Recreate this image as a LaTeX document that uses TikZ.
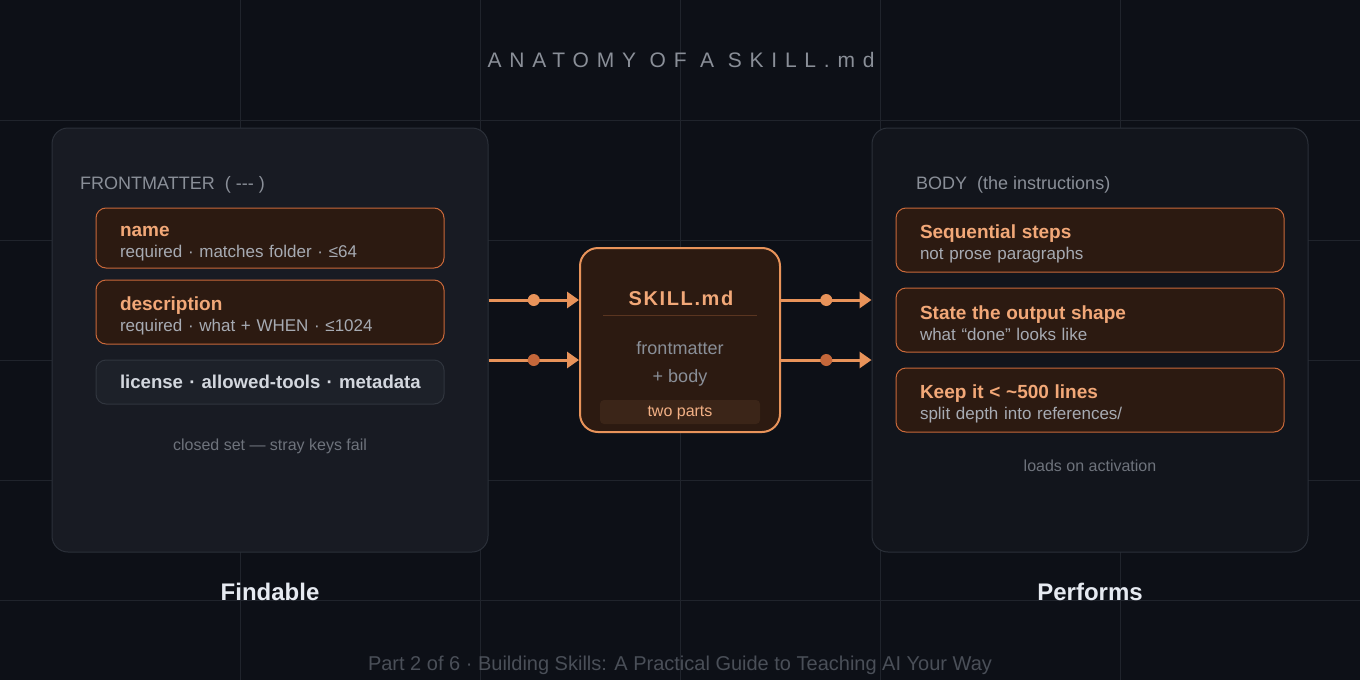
\documentclass[tikz,border=0pt]{standalone}
\usepackage{fontspec}
\setmainfont{Liberation Sans}
\newfontfamily\spacedfont[LetterSpace=37]{Liberation Sans}
\newfontfamily\hubfont[LetterSpace=8]{Liberation Sans}
\usepackage{tikz}
\usetikzlibrary{arrows.meta,positioning,calc}
\definecolor{night}{HTML}{0D1017}
\definecolor{gridline}{HTML}{20242C}
\definecolor{panelL}{HTML}{181B23}
\definecolor{panelR}{HTML}{12151C}
\definecolor{panelEdge}{HTML}{2B3039}
\definecolor{ember}{HTML}{2C1A11}
\definecolor{emberEdge}{HTML}{C8683A}
\definecolor{peach}{HTML}{F2A878}
\definecolor{wire}{HTML}{E8935A}
\definecolor{wireDeep}{HTML}{C4673A}
\definecolor{fog}{HTML}{A7ABB3}
\definecolor{slate}{HTML}{8A8F98}
\definecolor{dim}{HTML}{6E737C}
\definecolor{faint}{HTML}{4A4F58}
\definecolor{chalk}{HTML}{D3D7DE}
\definecolor{snow}{HTML}{E6EAF1}
\definecolor{optFill}{HTML}{1D2129}
\definecolor{optEdge}{HTML}{30353E}
\definecolor{tagFill}{HTML}{3B2518}
\definecolor{tagInk}{HTML}{F2B085}
\definecolor{hubRule}{HTML}{5A3520}

\newcommand{\fieldtext}[2]{\rule{0pt}{21pt}{\fontsize{19}{21}\selectfont\bfseries\color{peach}#1}\\{\fontsize{17}{21}\selectfont\color{fog}#2}}

\begin{document}
\begin{tikzpicture}[x=1pt,y=-1pt,
  panel/.style={draw=panelEdge, line width=1pt, rounded corners=16pt, minimum width=436pt, minimum height=424pt, inner sep=0pt},
  field/.style={draw=emberEdge, fill=ember, line width=1pt, rounded corners=10pt, inner xsep=24pt, inner ysep=0pt, align=left, font=\fontsize{17}{21}\selectfont},
  optional/.style={draw=optEdge, fill=optFill, line width=1pt, rounded corners=10pt, minimum width=348pt, minimum height=44pt, text width=300pt, inner xsep=24pt, align=left, text=chalk, font=\fontsize{18.6}{22}\selectfont\bfseries},
  hub/.style={draw=wire, fill=ember, line width=2pt, rounded corners=18pt, minimum width=200pt, minimum height=184pt, inner sep=0pt},
  link/.style={-{Triangle[length=12pt,width=16pt]}, line width=3pt, color=wire},
  dot/.style={circle, inner sep=0pt, minimum size=12pt},
  caption/.style={text=dim, font=\fontsize{16}{19}\selectfont},
  label/.style={text=slate, font=\fontsize{18}{21}\selectfont, anchor=west, inner sep=0pt},
  heading/.style={text=snow, font=\fontsize{24}{28}\selectfont\bfseries}]

  \fill[night] (0,0) rectangle (1360,680);
  \useasboundingbox (0,0) rectangle (1360,680);
  \foreach \gx in {240,480,680,880,1120}
    \draw[gridline, line width=1pt] (\gx,0) -- (\gx,680);
  \foreach \gy in {120,240,360,480,600}
    \draw[gridline, line width=1pt] (0,\gy) -- (1360,\gy);

  \node[text=slate, font=\fontsize{21}{24}\spacedfont] (title) at (681,60) {ANATOMY OF A SKILL.md};

  % left panel: frontmatter
  \node[panel, fill=panelL] (front) at (270,340) {};
  \node[label] (fmlabel) at (80,185) {FRONTMATTER\ \ ( -{}-{}- )};
  \node[field, minimum width=348pt, minimum height=60pt, text width=300pt] (name) at (270,238) {\fieldtext{name}{required · matches folder · ≤64}};
  \node[field, minimum width=348pt, minimum height=64pt, text width=300pt] (desc) at (270,312) {\fieldtext{description}{required · what + WHEN · ≤1024}};
  \node[optional] (extras) at (270,382) {\mbox{license · allowed-tools · metadata}};
  \node[caption] (fmnote) at (270,446) {closed set — stray keys fail};
  \node[heading] (findable) at (270,592) {Findable};

  % right panel: body
  \node[panel, fill=panelR] (body) at (1090,340) {};
  \node[label] (bodylabel) at (916,185) {BODY\ \ (the instructions)};
  \node[field, minimum width=388pt, minimum height=64pt, text width=340pt] (steps) at (1090,240) {\fieldtext{Sequential steps}{not prose paragraphs}};
  \node[field, minimum width=388pt, minimum height=64pt, text width=340pt] (shape) at (1090,320) {\fieldtext{State the output shape}{what “done” looks like}};
  \node[field, minimum width=388pt, minimum height=64pt, text width=340pt] (limit) at (1090,400) {\fieldtext{Keep it < \textasciitilde500 lines}{split depth into references/}};
  \node[caption] (bodynote) at (1090,466) {loads on activation};
  \node[heading] (performs) at (1090,592) {Performs};

  % the file itself
  \node[hub] (hub) at (680,340) {};
  \node[text=peach, font=\fontsize{20}{24}\hubfont\bfseries] (hubname) at (681,298) {SKILL.md};
  \draw[hubRule, line width=1pt] ($(hub.north west)+(24,68)$) -- ($(hub.north east)+(-24,68)$);
  \node[text=slate, align=center, font=\fontsize{18}{28}\selectfont] (hubsub) at (680,364) {frontmatter\\+ body};
  \node[fill=tagFill, rounded corners=4pt, minimum width=160pt, minimum height=24pt, inner sep=0pt, text=tagInk, text depth=2pt, font=\fontsize{16}{18}\selectfont] (tag) at (680,412) {two parts};

  % connectors
  \coordinate (upper) at (0,300);
  \coordinate (lower) at (0,360);
  \draw[link] (front.east |- upper) -- node[dot, fill=wire] (d1) {} (hub.west |- upper);
  \draw[link] (front.east |- lower) -- node[dot, fill=wireDeep] (d2) {} (hub.west |- lower);
  \draw[link] (hub.east |- upper) -- node[dot, fill=wire] (d3) {} (body.west |- upper);
  \draw[link] (hub.east |- lower) -- node[dot, fill=wireDeep] (d4) {} (body.west |- lower);

  \node[text=faint, font=\fontsize{20}{24}\selectfont] (footer) at (680,665) {Part 2 of 6 · Building Skills: A Practical Guide to Teaching AI Your Way};
\end{tikzpicture}
\end{document}
